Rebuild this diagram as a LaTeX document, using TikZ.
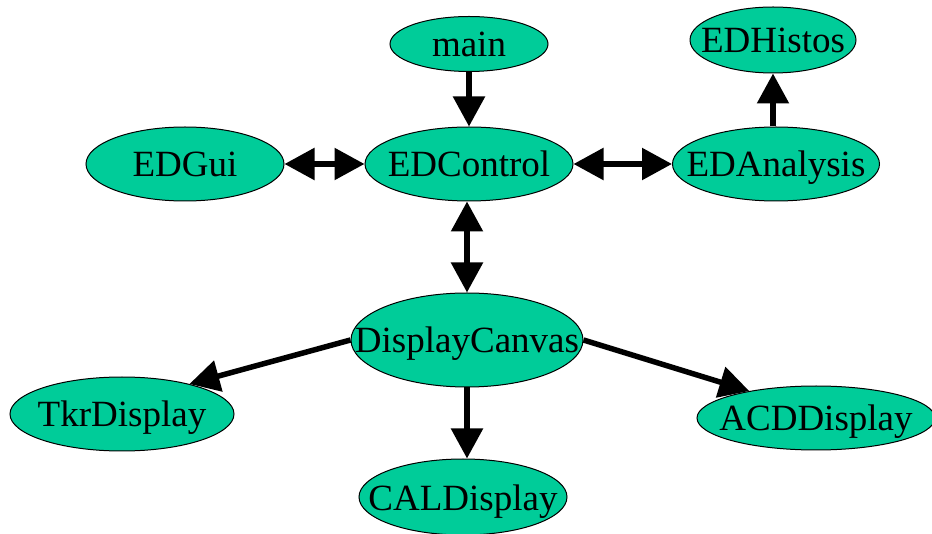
\documentclass[tikz,border=0pt]{standalone}
\usepackage{fontspec}
\setmainfont{Liberation Serif}
\usetikzlibrary{shapes.geometric,arrows.meta}
\definecolor{nodefill}{RGB}{0,204,153}
\newcommand{\ndtext}[1]{\makebox[0pt]{\smash{\raisebox{-13pt}{#1}}}}
\begin{document}
\begin{tikzpicture}[x=1pt,y=-1pt,
  nd/.style={ellipse,draw=black,line width=1pt,fill=nodefill,inner sep=0pt,
    font=\fontsize{37}{37}\selectfont},
  conn/.style={line width=5.5pt,-{Triangle[length=30pt,width=31pt]}},
  bconn/.style={line width=5.5pt,{Triangle[length=30pt,width=31pt]}-{Triangle[length=30pt,width=31pt]}}]
\useasboundingbox (0,0) rectangle (932,534);
\node[nd,minimum width=158pt,minimum height=55pt] (main) at (469,44) {\ndtext{main}};
\node[nd,minimum width=208pt,minimum height=74pt] (edc) at (469,164) {\ndtext{EDControl}};
\node[nd,minimum width=198pt,minimum height=74pt] (edgui) at (185,164) {\ndtext{EDGui}};
\node[nd,minimum width=207pt,minimum height=74pt] (eda) at (776,164) {\ndtext{EDAnalysis}};
\node[nd,minimum width=166pt,minimum height=66pt] (edh) at (773,40) {\ndtext{EDHistos}};
\node[nd,minimum width=232pt,minimum height=94pt] (dc) at (467,340) {\ndtext{DisplayCanvas}};
\node[nd,minimum width=224pt,minimum height=74pt] (tkr) at (122,414) {\ndtext{TkrDisplay}};
\node[nd,minimum width=208pt,minimum height=76pt] (cal) at (463,497) {\ndtext{CALDisplay}};
\node[nd,minimum width=238pt,minimum height=64pt] (acd) at (816,418) {\ndtext{ACDDisplay}};
\draw[conn] (main) -- (edc);
\draw[bconn] (edgui) -- (edc);
\draw[bconn] (edc) -- (eda);
\draw[conn] (eda.north -| edh.south) -- (edh.south);
\draw[bconn] (edc.south -| dc.north) -- (dc.north);
\draw[conn] (dc.south) -- (dc.south |- cal.north);
\draw[conn] (dc.west) -- (tkr.24);
\draw[conn] (dc.east) -- (acd.158);
\end{tikzpicture}
\end{document}
